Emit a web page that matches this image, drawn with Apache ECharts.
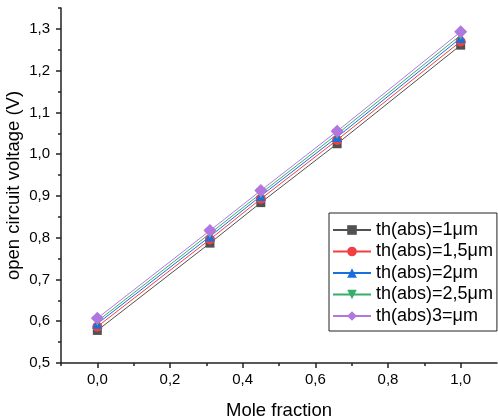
<!DOCTYPE html>
<html>
<head>
<meta charset="utf-8">
<script src="https://cdn.jsdelivr.net/npm/echarts@6/dist/echarts.min.js"></script>
<style>
html,body{margin:0;padding:0;background:#fff;}
#chart{width:498px;height:419px;}
</style>
</head>
<body>
<div id="chart"></div>
<script>
const xValues = [0, 0.31, 0.45, 0.66, 1.0];
const seriesNames = ['th(abs)=1\u03bcm', 'th(abs)=1,5\u03bcm', 'th(abs)=2\u03bcm', 'th(abs)=2,5\u03bcm', 'th(abs)3=\u03bcm'];
const th1 = [0.578, 0.787, 0.884, 1.025, 1.261];
const th15 = [0.587, 0.796, 0.893, 1.034, 1.270];
const th2 = [0.594, 0.803, 0.900, 1.041, 1.278];
const th25 = [0.600, 0.810, 0.906, 1.048, 1.285];
const th3 = [0.607, 0.817, 0.913, 1.055, 1.293];
const xMajorTicks = [0, 0.2, 0.4, 0.6, 0.8, 1.0];
const xMinorTicks = [-0.1, 0.1, 0.3, 0.5, 0.7, 0.9];
const yMajorTicks = [0.5, 0.6, 0.7, 0.8, 0.9, 1.0, 1.1, 1.2, 1.3];
const yMinorTicks = [0.55, 0.65, 0.75, 0.85, 0.95, 1.05, 1.15, 1.25, 1.35];

const allSeries = [th1, th15, th2, th25, th3];
const colors = ['#515151', '#F14040', '#1A6FDF', '#37AD6B', '#B177DE'];
const symbols = ['rect', 'circle', 'triangle', 'path://M0,0L20,0L10,17Z', 'diamond'];
const symbolSizes = [9, 10, 10, 10, [13, 13]];

const FONT = '"Liberation Sans", Arial, sans-serif';
const fmt = v => v.toFixed(1).replace('.', ',');
const axisColor = '#222';

const chart = echarts.init(document.getElementById('chart'), null, {renderer: 'canvas'});
chart.setOption({
  animation: false,
  backgroundColor: '#fff',
  textStyle: {fontFamily: FONT},
  grid: {left: 61, top: 8, right: 1, bottom: 56, containLabel: false, outerBoundsMode: 'none'},
  legend: {
    orient: 'vertical',
    left: 329, top: 213,
    padding: [8, 4, 6, 3],
    itemGap: 3.5,
    itemWidth: 38, itemHeight: 12,
    borderColor: '#222', borderWidth: 1,
    textStyle: {fontFamily: FONT, fontSize: 18, color: '#000', lineHeight: 17.5},
    data: seriesNames
  },
  xAxis: [{
    type: 'value', min: -0.1, max: 1.1,
    name: 'Mole fraction', nameLocation: 'middle', nameGap: 38, nameMoveOverlap: false,
    nameTextStyle: {fontFamily: FONT, fontSize: 18.5, color: '#000'},
    splitLine: {show: false},
    axisLine: {show: true, onZero: false, lineStyle: {color: axisColor, width: 1.5}},
    axisTick: {show: true, inside: false, length: 5, customValues: xMajorTicks, lineStyle: {color: axisColor, width: 1.5}},
    axisLabel: {customValues: xMajorTicks, margin: 9, fontFamily: FONT, fontSize: 15, color: '#000', formatter: fmt}
  }, {
    type: 'value', min: -0.1, max: 1.1, position: 'bottom',
    splitLine: {show: false},
    axisLine: {show: false, onZero: false},
    axisTick: {show: true, length: 3, customValues: xMinorTicks, lineStyle: {color: axisColor, width: 1.5}},
    axisLabel: {show: false}
  }],
  yAxis: [{
    type: 'value', min: 0.5, max: 1.35,
    name: 'open circuit voltage (V)', nameLocation: 'middle', nameGap: 38, nameRotate: 90, nameMoveOverlap: false,
    nameTextStyle: {fontFamily: FONT, fontSize: 18.5, color: '#000'},
    splitLine: {show: false},
    axisLine: {show: true, onZero: false, lineStyle: {color: axisColor, width: 1.5}},
    axisTick: {show: true, length: 5, customValues: yMajorTicks, lineStyle: {color: axisColor, width: 1.5}},
    axisLabel: {customValues: yMajorTicks, margin: 11, fontFamily: FONT, fontSize: 15, color: '#000', formatter: fmt}
  }, {
    type: 'value', min: 0.5, max: 1.35, position: 'left',
    splitLine: {show: false},
    axisLine: {show: false, onZero: false},
    axisTick: {show: true, length: 3, customValues: yMinorTicks, lineStyle: {color: axisColor, width: 1.5}},
    axisLabel: {show: false}
  }],
  series: allSeries.map((vals, i) => ({
    name: seriesNames[i],
    type: 'line',
    xAxisIndex: 0, yAxisIndex: 0,
    data: vals.map((v, j) => [xValues[j], v]),
    symbol: symbols[i],
    symbolSize: symbolSizes[i],
    showAllSymbol: true,
    itemStyle: {color: colors[i]},
    lineStyle: {color: colors[i], width: 1}
  }))
});
</script>
</body>
</html>
